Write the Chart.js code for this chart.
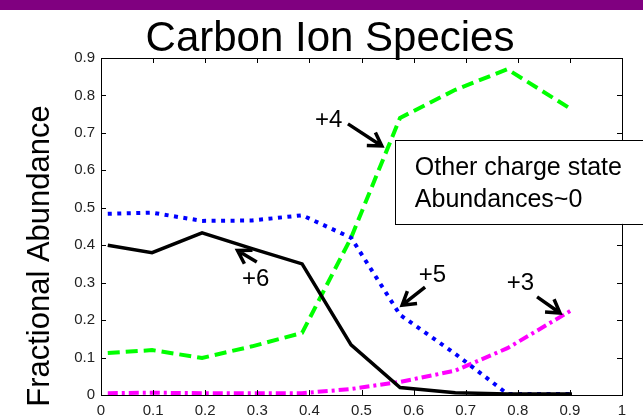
<!DOCTYPE html>
<html>
<head>
<meta charset="utf-8">
<title>Carbon Ion Species</title>
<script src="https://cdn.jsdelivr.net/npm/chart.js@4"></script>
<style>
  html, body { margin: 0; padding: 0; background: #fff; }
  #wrap { position: relative; width: 643px; height: 417px; overflow: hidden; }
  #bar { position: absolute; left: 0; top: 0; width: 643px; height: 10px; background: #800080; }
  #myChart { position: absolute; left: 0; top: 0; }
</style>
</head>
<body>
<div id="wrap">
  <div id="bar"></div>
  <canvas id="myChart" width="643" height="417"></canvas>
</div>
<script>
// sample positions and fractional abundance per charge state
const xValues = [0.013, 0.098, 0.194, 0.29, 0.386, 0.48, 0.574, 0.68, 0.78, 0.904];
const carbon6 = [0.40, 0.38, 0.433, 0.391, 0.35, 0.134, 0.02, 0.006, 0.003, 0.003];
const carbon5 = [0.484, 0.487, 0.465, 0.466, 0.48, 0.42, 0.214, 0.11, 0.003, 0.003];
const carbon4 = [0.112, 0.12, 0.099, 0.13, 0.166, 0.42, 0.74, 0.815, 0.87, 0.762];
const carbon3 = [0.005, 0.006, 0.005, 0.005, 0.005, 0.016, 0.035, 0.065, 0.125, 0.227];

const xTicks = [0, 0.1, 0.2, 0.3, 0.4, 0.5, 0.6, 0.7, 0.8, 0.9, 1];
const yTicks = [0, 0.1, 0.2, 0.3, 0.4, 0.5, 0.6, 0.7, 0.8, 0.9];

// labels with arrows, in data units: text position, arrow tail, arrow tip
const notes = [
  { text: '+4', at: [0.437, 0.734], from: [0.474, 0.724], to: [0.539, 0.665] },
  { text: '+6', at: [0.297, 0.31], from: [0.299, 0.355], to: [0.262, 0.386] },
  { text: '+5', at: [0.636, 0.32], from: [0.622, 0.288], to: [0.578, 0.24] },
  { text: '+3', at: [0.805, 0.299], from: [0.837, 0.262], to: [0.881, 0.219] }
];
const boxLines = ['Other charge state', 'Abundances~0'];

Chart.defaults.font.family = '"Liberation Sans", Arial, sans-serif';

function series(values) {
  return values.map((v, i) => ({ x: xValues[i], y: v }));
}

const extras = {
  id: 'extras',
  afterDraw(chart) {
    const ctx = chart.ctx;
    const xs = chart.scales.x, ys = chart.scales.y;
    const a = chart.chartArea;
    const px = v => xs.getPixelForValue(v);
    const py = v => ys.getPixelForValue(v);

    ctx.save();
    // top and right border, inward ticks on every side
    ctx.strokeStyle = '#000';
    ctx.lineWidth = 1;
    ctx.beginPath();
    ctx.moveTo(a.left, a.top + 0.5);
    ctx.lineTo(a.right + 0.5, a.top + 0.5);
    ctx.lineTo(a.right + 0.5, a.bottom);
    xTicks.forEach(v => {
      const x = Math.round(px(v)) + 0.5;
      ctx.moveTo(x, a.bottom); ctx.lineTo(x, a.bottom - 5);
      ctx.moveTo(x, a.top); ctx.lineTo(x, a.top + 5);
    });
    yTicks.forEach(v => {
      const y = Math.round(py(v)) + 0.5;
      ctx.moveTo(a.left, y); ctx.lineTo(a.left + 5, y);
      ctx.moveTo(a.right, y); ctx.lineTo(a.right - 5, y);
    });
    ctx.stroke();

    // title and y label
    ctx.fillStyle = '#000';
    ctx.font = '42px "Liberation Sans", Arial, sans-serif';
    ctx.textAlign = 'center';
    ctx.textBaseline = 'alphabetic';
    ctx.fillText('Carbon Ion Species', 330, 51);

    ctx.save();
    ctx.translate(40, 256);
    ctx.rotate(-Math.PI / 2);
    ctx.font = '31px "Liberation Sans", Arial, sans-serif';
    ctx.textBaseline = 'middle';
    ctx.fillText('Fractional Abundance', 0, 0);
    ctx.restore();

    // arrow labels
    ctx.font = '24px "Liberation Sans", Arial, sans-serif';
    ctx.textAlign = 'center';
    ctx.textBaseline = 'middle';
    ctx.lineWidth = 3.5;
    notes.forEach(n => {
      ctx.fillText(n.text, px(n.at[0]), py(n.at[1]));
      const x0 = px(n.from[0]), y0 = py(n.from[1]);
      const x1 = px(n.to[0]), y1 = py(n.to[1]);
      const ang = Math.atan2(y1 - y0, x1 - x0);
      ctx.beginPath();
      ctx.moveTo(x0, y0);
      ctx.lineTo(x1, y1);
      ctx.moveTo(x1 - 15 * Math.cos(ang - 0.55), y1 - 15 * Math.sin(ang - 0.55));
      ctx.lineTo(x1, y1);
      ctx.lineTo(x1 - 15 * Math.cos(ang + 0.55), y1 - 15 * Math.sin(ang + 0.55));
      ctx.stroke();
    });

    // note box
    const bx = px(0.564), by = py(0.681), bb = py(0.457);
    ctx.fillStyle = '#fff';
    ctx.fillRect(bx, by, 260, bb - by);
    ctx.lineWidth = 1;
    ctx.strokeRect(Math.round(bx) + 0.5, Math.round(by) + 0.5, 260, Math.round(bb - by));
    ctx.fillStyle = '#000';
    ctx.font = '25px "Liberation Sans", Arial, sans-serif';
    ctx.textAlign = 'left';
    ctx.textBaseline = 'alphabetic';
    ctx.fillText(boxLines[0], bx + 20, by + 35);
    ctx.fillText(boxLines[1], bx + 20, by + 67);
    ctx.restore();
  }
};

new Chart(document.getElementById('myChart').getContext('2d'), {
  type: 'line',
  data: {
    datasets: [
      { label: '+6', data: series(carbon6), borderColor: '#000', borderWidth: 3.5 },
      { label: '+5', data: series(carbon5), borderColor: '#0000ff', borderWidth: 4, borderDash: [4, 5.5] },
      { label: '+4', data: series(carbon4), borderColor: '#00ff00', borderWidth: 4, borderDash: [12, 6] },
      { label: '+3', data: series(carbon3), borderColor: '#ff00ff', borderWidth: 4, borderDash: [10, 4, 3, 4] }
    ]
  },
  options: {
    responsive: false,
    animation: false,
    layout: { padding: { left: 0, right: 21, top: 58, bottom: 0 } },
    elements: { point: { radius: 0 }, line: { tension: 0, fill: false } },
    plugins: {
      legend: { display: false },
      tooltip: { enabled: false },
      title: { display: false }
    },
    scales: {
      x: {
        type: 'linear',
        min: 0,
        max: 1,
        afterBuildTicks: s => { s.ticks = xTicks.map(v => ({ value: v })); },
        afterFit: s => { s.height = 22; },
        ticks: {
          color: '#222',
          font: { size: 15 },
          padding: 7,
          maxRotation: 0,
          callback: v => String(v)
        },
        grid: { drawOnChartArea: false, drawTicks: false },
        border: { color: '#000', width: 1 }
      },
      y: {
        min: 0,
        max: 0.9,
        afterBuildTicks: s => { s.ticks = yTicks.map(v => ({ value: v })); },
        afterFit: s => { s.width = 101; },
        ticks: {
          color: '#222',
          font: { size: 15 },
          padding: 6,
          callback: v => String(v)
        },
        grid: { drawOnChartArea: false, drawTicks: false },
        border: { color: '#000', width: 1 }
      }
    }
  },
  plugins: [extras]
});
</script>
</body>
</html>
